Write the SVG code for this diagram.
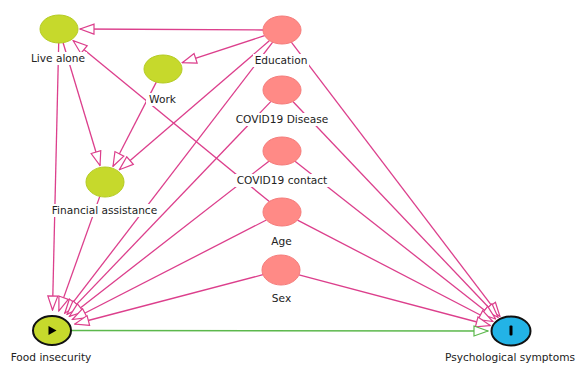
<svg xmlns="http://www.w3.org/2000/svg" width="577" height="365" viewBox="0 0 577 365">
<style>
.e{stroke:#dc3f8c;stroke-width:1.3;fill:none;marker-end:url(#ap)}
.g{stroke:#5cb84c;stroke-width:1.5;fill:none;marker-end:url(#ag)}
.yg{fill:#c6d92c;stroke:#b4cb22;stroke-width:1}
.sa{fill:#ff8a86;stroke:#f57b7a;stroke-width:1}
.lb{fill:#ffffff}
text{font-family:"DejaVu Sans","Liberation Sans",sans-serif;font-size:10.6px;fill:#222;text-anchor:middle}
</style>
<defs>
<marker id="ap" markerUnits="userSpaceOnUse" markerWidth="16" markerHeight="12" viewBox="0 0 16 12" refX="15" refY="6" orient="auto">
<path d="M1,1 L15,6 L1,11 Z" fill="#fff" stroke="#dc3f8c" stroke-width="1.2"/>
</marker>
<marker id="ag" markerUnits="userSpaceOnUse" markerWidth="16" markerHeight="12" viewBox="0 0 16 12" refX="15" refY="6" orient="auto">
<path d="M1,1 L15,6 L1,11 Z" fill="#fff" stroke="#5cb84c" stroke-width="1.2"/>
</marker>
</defs>
<rect width="577" height="365" fill="#fff"/>
<g id="connectors">
<line class="e" x1="263" y1="30" x2="80" y2="29"/>
<line class="e" x1="264.6" y1="35.7" x2="182.3" y2="62.7"/>
<line class="e" x1="269.6" y1="40.6" x2="119.4" y2="169.7"/>
<line class="e" x1="272.7" y1="42.2" x2="64.8" y2="313.2"/>
<line class="e" x1="291.3" y1="42.2" x2="499.9" y2="316.4"/>
<line class="e" x1="58.7" y1="43" x2="52.5" y2="310"/>
<line class="e" x1="63.1" y1="42.7" x2="100" y2="165.5"/>
<line class="e" x1="156.3" y1="82.1" x2="113" y2="166.3"/>
<line class="e" x1="269.3" y1="201.6" x2="73.2" y2="40.7"/>
<line class="e" x1="271" y1="101.4" x2="67" y2="314.4"/>
<line class="e" x1="292.9" y1="101.5" x2="498" y2="317.3"/>
<line class="e" x1="268.9" y1="161.2" x2="69.4" y2="316.4"/>
<line class="e" x1="295" y1="161.2" x2="495.6" y2="319"/>
<line class="e" x1="266.4" y1="220" x2="72.4" y2="319.5"/>
<line class="e" x1="297.5" y1="220.1" x2="492.8" y2="321.5"/>
<line class="e" x1="263" y1="274.7" x2="74.8" y2="324"/>
<line class="e" x1="299" y1="274.8" x2="490.2" y2="325.5"/>
<line class="e" x1="99.8" y1="196.4" x2="58.9" y2="310.9"/>
<line class="g" x1="71" y1="330.5" x2="488" y2="331"/>
</g>
<g id="live-alone">
<ellipse class="yg" cx="59" cy="29" rx="19" ry="14"/>
<rect class="lb" x="30" y="52" width="57" height="13"/>
<text x="58" y="62">Live alone</text>
</g>
<g id="work">
<ellipse class="yg" cx="163" cy="69" rx="19" ry="14"/>
<rect class="lb" x="146" y="93" width="33" height="13"/>
<text x="162.5" y="103">Work</text>
</g>
<g id="education">
<ellipse class="sa" cx="282" cy="30" rx="19" ry="14"/>
<rect class="lb" x="253" y="54" width="56" height="13"/>
<text x="281" y="64">Education</text>
</g>
<g id="covid19-disease">
<ellipse class="sa" cx="282" cy="90" rx="19" ry="14"/>
<rect class="lb" x="234" y="113" width="96" height="13"/>
<text x="282" y="123">COVID19 Disease</text>
</g>
<g id="covid19-contact">
<ellipse class="sa" cx="282" cy="151" rx="19" ry="14"/>
<rect class="lb" x="235" y="174" width="95" height="13"/>
<text x="282" y="184">COVID19 contact</text>
</g>
<g id="age">
<ellipse class="sa" cx="282" cy="212" rx="19" ry="14"/>
<rect class="lb" x="270" y="235" width="24" height="13"/>
<text x="281.5" y="245">Age</text>
</g>
<g id="sex">
<ellipse class="sa" cx="281" cy="270" rx="19" ry="15"/>
<rect class="lb" x="270" y="292" width="24" height="13"/>
<text x="281.5" y="302">Sex</text>
</g>
<g id="financial-assistance">
<ellipse class="yg" cx="105" cy="182" rx="19" ry="15"/>
<rect class="lb" x="50" y="204" width="109" height="13"/>
<text x="104.5" y="214">Financial assistance</text>
</g>
<g id="food-insecurity">
<ellipse cx="52" cy="330.5" rx="19" ry="14.5" fill="#c6d92c" stroke="#111" stroke-width="2"/>
<path d="M48.5,326 L48.5,335 L56.5,330.5 Z" fill="#000"/>
<text x="51" y="361">Food insecurity</text>
</g>
<g id="psychological-symptoms">
<ellipse cx="511" cy="331" rx="19.5" ry="14.5" fill="#23b3e6" stroke="#111" stroke-width="2"/>
<rect x="509.5" y="325.5" width="3" height="10" rx="1" fill="#000"/>
<text x="510" y="361">Psychological symptoms</text>
</g>
</svg>
